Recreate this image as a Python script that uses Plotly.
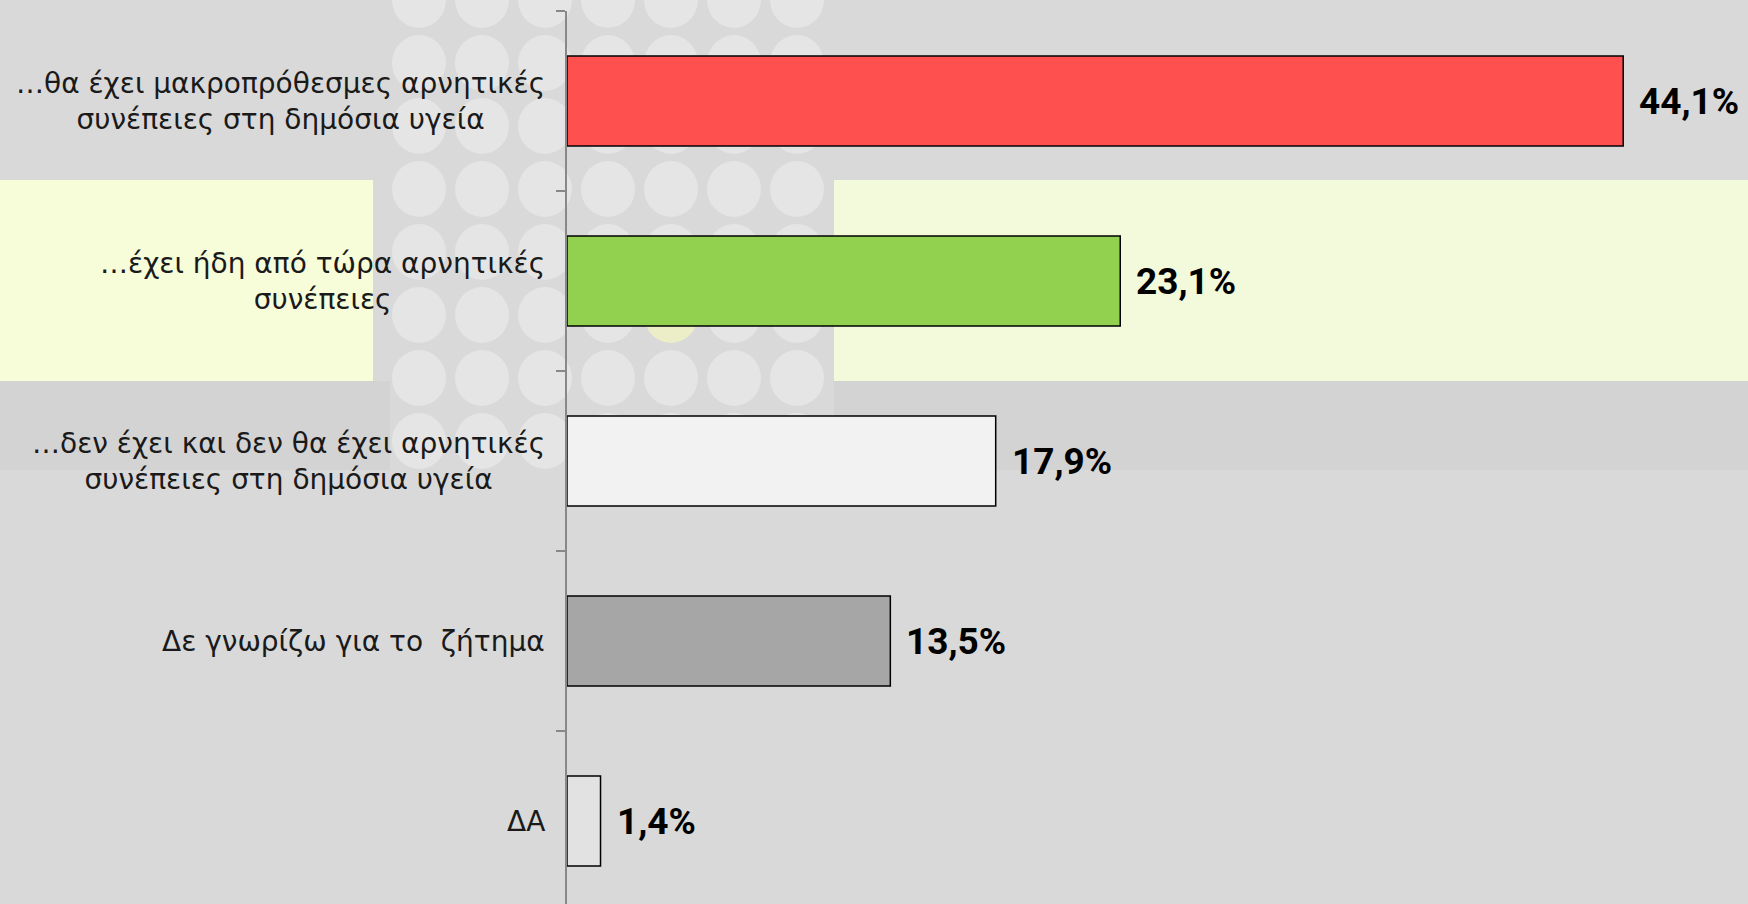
import plotly.graph_objects as go

# ---- data ----
categories = [
    "…θα έχει μακροπρόθεσμες αρνητικές<br>συνέπειες στη δημόσια υγεία",
    "…έχει ήδη από τώρα αρνητικές<br>συνέπειες",
    "…δεν έχει και δεν θα έχει αρνητικές<br>συνέπειες στη δημόσια υγεία",
    "Δε γνωρίζω για το  ζήτημα",
    "ΔΑ",
]
values = [44.1, 23.1, 17.9, 13.5, 1.4]
bar_colors = ["#ff5050", "#92d050", "#f2f2f2", "#a6a6a6", "#e2e2e2"]
value_labels = [f"{v:.1f}".replace(".", ",") + "%" for v in values]

# ---- layout geometry (pixels) ----
W, H = 1748, 904
L, T = 567, 11
PW, PH = W - L, H - T

def fx(px):
    return (px - L) / PW

def fy(py):
    return 1 - (py - T) / PH

cat_keys = [c.replace("<br>", " ") for c in categories]

fig = go.Figure()
fig.add_trace(go.Bar(
    y=cat_keys, x=values, orientation="h",
    marker=dict(color=bar_colors, line=dict(color="#000000", width=1.5)),
    width=0.5, hoverinfo="skip",
))

annotations = []
for key, lab in zip(cat_keys, categories):
    annotations.append(dict(
        x=0, xref="paper", y=key, yref="y", text=lab, showarrow=False,
        xanchor="right", yanchor="middle", align="center", xshift=-20,
        font=dict(family="DejaVu Sans", size=28, color="#1a1a1a"),
    ))
for key, v, lab in zip(cat_keys, values, value_labels):
    annotations.append(dict(
        x=v, xref="x", y=key, yref="y", text=f"<b>{lab}</b>", showarrow=False,
        xanchor="left", yanchor="middle", xshift=14,
        font=dict(family="Roboto", size=37, color="#000000"),
    ))

# ---- decorative background ----
shapes = []
def rect(x0, y0, x1, y1, color):
    shapes.append(dict(type="rect", xref="paper", yref="paper",
                       x0=fx(x0), x1=fx(x1), y0=fy(y0), y1=fy(y1),
                       fillcolor=color, line=dict(width=0), layer="below"))

rect(0, 381, 390, 470, "#d3d3d3")
rect(834, 381, W, 470, "#d3d3d3")
rect(0, 180, 373, 381, "#f7fcd9")
rect(834, 180, W, 381, "#f3f9db")
for i in range(7):
    for j in range(8):
        cx = 419 + 63 * i
        cy = 0 + 63 * j
        col = "#eceec8" if (i == 4 and j == 5) else "#e5e5e5"
        shapes.append(dict(type="circle", xref="paper", yref="paper",
                           x0=fx(cx - 27), x1=fx(cx + 27), y0=fy(cy + 28), y1=fy(cy - 28),
                           fillcolor=col, line=dict(width=0), layer="below"))

fig.update_layout(
    width=W, height=H,
    margin=dict(l=L, r=0, t=T, b=0, pad=0),
    paper_bgcolor="#d9d9d9", plot_bgcolor="rgba(0,0,0,0)",
    showlegend=False, bargap=0.5,
    xaxis=dict(range=[0, PW / 23.95], visible=False, fixedrange=True),
    yaxis=dict(
        type="category", categoryorder="array", categoryarray=cat_keys,
        range=[-0.5 + PH / 180, -0.5], showticklabels=False,
        showline=True, linecolor="#888888", linewidth=2,
        ticks="outside", tickson="boundaries", ticklen=9, tickcolor="#888888", tickwidth=2,
        showgrid=False, zeroline=False, fixedrange=True,
    ),
    annotations=annotations, shapes=shapes,
)

fig.write_html("out.html", config={"displayModeBar": False},
               post_script="document.body.style.margin='0';")
